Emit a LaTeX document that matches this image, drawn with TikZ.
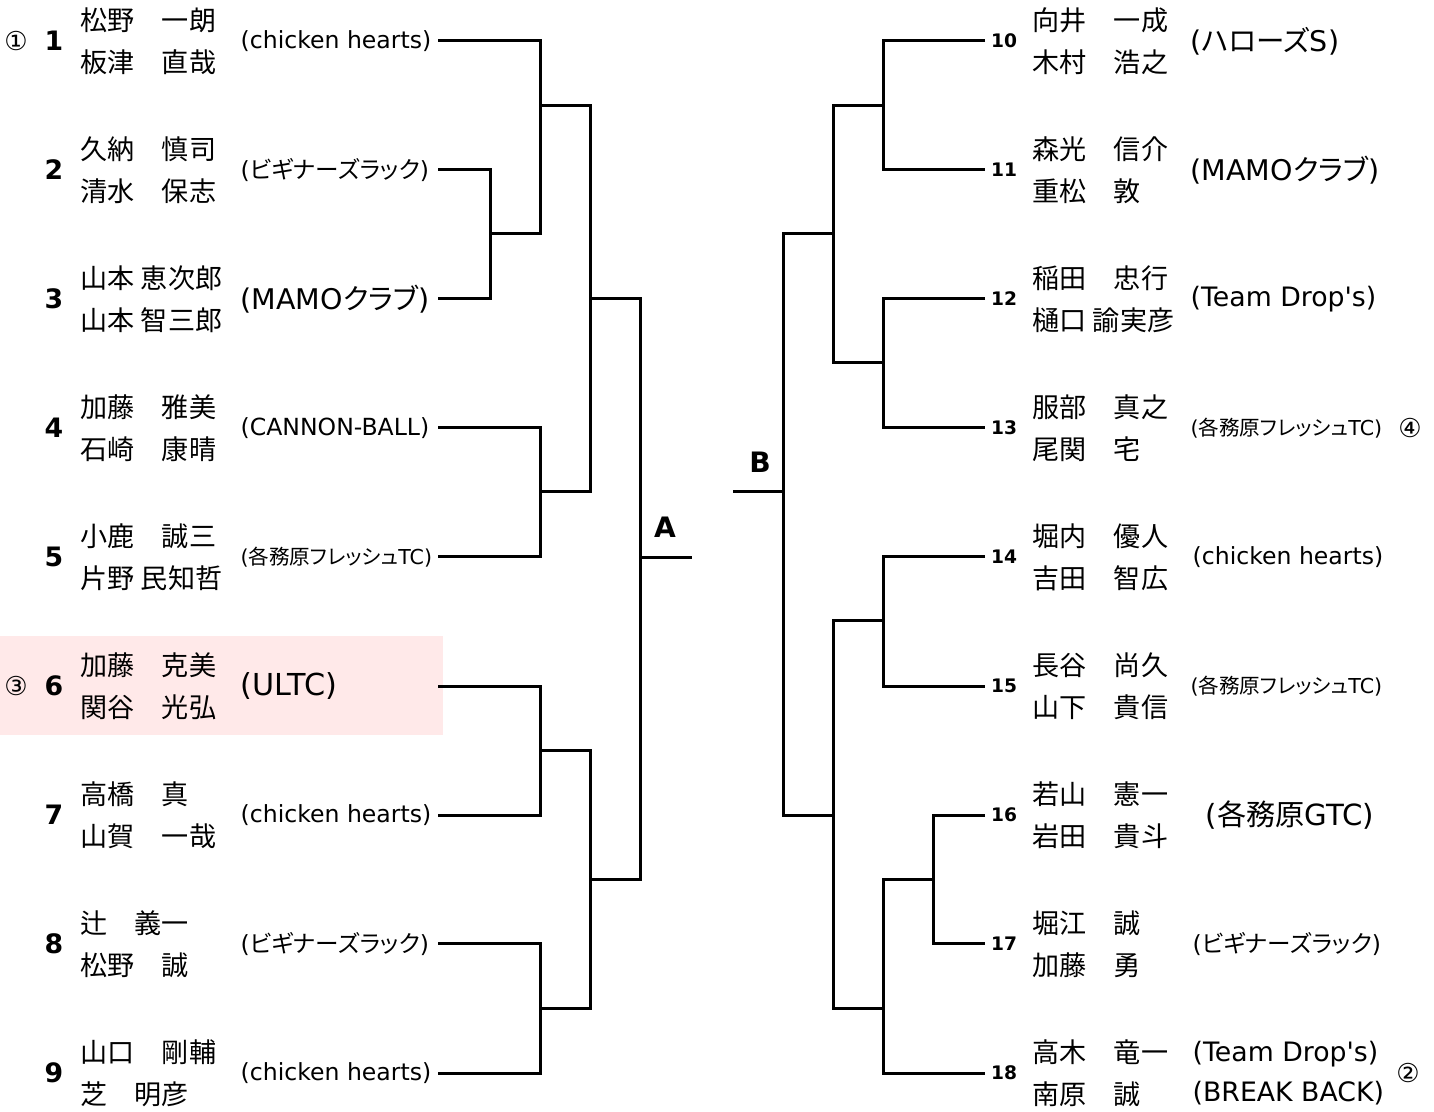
\documentclass[tikz,border=0pt]{standalone}
\usepackage{fontspec}
\setmainfont{DejaVu Sans}[Ligatures=TeXOff]
\newfontfamily\jp{Noto Sans CJK JP}
\newfontfamily\jpp{Noto Sans CJK JP}[RawFeature=+palt]
\usepackage{xcolor}
\usetikzlibrary{calc}

\definecolor{seedpink}{RGB}{255,233,233}
\newcommand{\clubT}{\fontsize{5.85}{7}\selectfont}
\newcommand{\clubS}{\fontsize{6.7}{8}\selectfont}
\newcommand{\clubM}{\fontsize{7.6}{11.4}\selectfont}
\newcommand{\clubL}{\fontsize{8.1}{9}\selectfont}

\tikzset{
    seed/.style={font=\bfseries\fontsize{7.6}{9}\selectfont, inner sep=0},
    seedR/.style={font=\bfseries\fontsize{5.3}{6}\selectfont, inner sep=0},
    circ/.style={font=\fontsize{7.4}{8}\selectfont, inner sep=0},
    pair/.style={anchor=west, inner sep=0, align=left, font=\jp\fontsize{7.7}{11.9}\selectfont},
    club/.style={anchor=west, inner sep=0, align=left},
    wire/.style={line width=0.85pt, black}
}

\begin{document}
\begin{tikzpicture}[x=0.01cm, y=-0.01cm]
        \useasboundingbox (0,0) rectangle (1434,1111);

        % highlighted entry
        \fill[seedpink] (0,636) rectangle (443,735);

        % ============================================================
        % LEFT HALF - entries 1 to 9
        % ============================================================
        \node[circ] (o1) at (16,41) {①};
        \node[seed] (s1) at (54,41) {1};
        \node[pair] (p1) at (80,41) {松野　一朗\\板津　直哉};
        \node[club, font=\clubS] (c1) at (240,41) {(chicken hearts)};
        \coordinate (l1) at (438,40);

        \node[seed] (s2) at (54,170) {2};
        \node[pair] (p2) at (80,170) {久納　慎司\\清水　保志};
        \node[club, font=\clubS] (c2) at (240,170) {({\jpp ビギナーズラック})};
        \coordinate (l2) at (438,169);

        \node[seed] (s3) at (54,299) {3};
        \node[pair] (p3) at (80,299) {山本 恵次郎\\山本 智三郎};
        \node[club, font=\clubL] (c3) at (240,299) {(MAMO{\jpp クラブ})};
        \coordinate (l3) at (438,298);

        \node[seed] (s4) at (54,428) {4};
        \node[pair] (p4) at (80,428) {加藤　雅美\\石崎　康晴};
        \node[club, font=\clubS] (c4) at (240,428) {(CANNON-BALL)};
        \coordinate (l4) at (438,427);

        \node[seed] (s5) at (54,557) {5};
        \node[pair] (p5) at (80,557) {小鹿　誠三\\片野 民知哲};
        \node[club, font=\clubT] (c5) at (240,557) {({\jpp 各務原フレッシュ}TC)};
        \coordinate (l5) at (438,556);

        \node[circ] (o3) at (16,686) {③};
        \node[seed] (s6) at (54,686) {6};
        \node[pair] (p6) at (80,686) {加藤　克美\\関谷　光弘};
        \node[club, font=\fontsize{8.6}{9}\selectfont] (c6) at (240,686) {(ULTC)};
        \coordinate (l6) at (438,686);

        \node[seed] (s7) at (54,815) {7};
        \node[pair] (p7) at (80,815) {高橋　真\\山賀　一哉};
        \node[club, font=\clubS] (c7) at (240,815) {(chicken hearts)};
        \coordinate (l7) at (438,815);

        \node[seed] (s8) at (54,944) {8};
        \node[pair] (p8) at (80,944) {辻　義一\\松野　誠};
        \node[club, font=\clubS] (c8) at (240,944) {({\jpp ビギナーズラック})};
        \coordinate (l8) at (438,943);

        \node[seed] (s9) at (54,1073) {9};
        \node[pair] (p9) at (80,1073) {山口　剛輔\\芝　明彦};
        \node[club, font=\clubS] (c9) at (240,1073) {(chicken hearts)};
        \coordinate (l9) at (438,1073);

        % left bracket
        \coordinate (m1) at (540,105);
        \coordinate (m23) at (490,233);
        \coordinate (m45) at (540,491);
        \coordinate (m67) at (540,750);
        \coordinate (m89) at (540,1008);
        \coordinate (q1) at (590,298);
        \coordinate (q2) at (590,879);
        \coordinate (fA) at (640,557);
        \coordinate (endA) at (692,557);

        \draw[wire] (l2) -| (m23) |- (l3);
        \draw[wire] (l1) -| (m1) |- (m23);
        \draw[wire] (l4) -| (m45) |- (l5);
        \draw[wire] (m1) -| (q1) |- (m45);
        \draw[wire] (l6) -| (m67) |- (l7);
        \draw[wire] (l8) -| (m89) |- (l9);
        \draw[wire] (m67) -| (q2) |- (m89);
        \draw[wire] (q1) -| (fA) |- (q2);
        \draw[wire] (fA) -- (endA);
        \node[font=\bfseries\fontsize{8}{9}\selectfont, inner sep=0] (labA) at (665,527) {A};

        % ============================================================
        % RIGHT HALF - entries 10 to 18
        % ============================================================
        \node[seedR] (s10) at (1004,41) {10};
        \node[pair] (p10) at (1032,41) {向井　一成\\木村　浩之};
        \node[club, font=\clubL] (c10) at (1190,41) {({\jpp ハローズ}S)};
        \coordinate (r10) at (985,40);

        \node[seedR] (s11) at (1004,170) {11};
        \node[pair] (p11) at (1032,170) {森光　信介\\重松　敦};
        \node[club, font=\clubL] (c11) at (1190,170) {(MAMO{\jpp クラブ})};
        \coordinate (r11) at (985,169);

        \node[seedR] (s12) at (1004,299) {12};
        \node[pair] (p12) at (1032,299) {稲田　忠行\\樋口 諭実彦};
        \node[club, font=\clubM] (c12) at (1190,299) {(Team Drop's)};
        \coordinate (r12) at (985,298);

        \node[seedR] (s13) at (1004,428) {13};
        \node[pair] (p13) at (1032,428) {服部　真之\\尾関　宅};
        \node[club, font=\clubT] (c13) at (1190,428) {({\jpp 各務原フレッシュ}TC)};
        \node[circ] (o4) at (1410,428) {④};
        \coordinate (r13) at (985,427);

        \node[seedR] (s14) at (1004,557) {14};
        \node[pair] (p14) at (1032,557) {堀内　優人\\吉田　智広};
        \node[club, font=\clubS] (c14) at (1192,557) {(chicken hearts)};
        \coordinate (r14) at (985,556);

        \node[seedR] (s15) at (1004,686) {15};
        \node[pair] (p15) at (1032,686) {長谷　尚久\\山下　貴信};
        \node[club, font=\clubT] (c15) at (1190,686) {({\jpp 各務原フレッシュ}TC)};
        \coordinate (r15) at (985,686);

        \node[seedR] (s16) at (1004,815) {16};
        \node[pair] (p16) at (1032,815) {若山　憲一\\岩田　貴斗};
        \node[club, font=\fontsize{8.3}{9}\selectfont] (c16) at (1205,815) {({\jpp 各務原}GTC)};
        \coordinate (r16) at (985,815);

        \node[seedR] (s17) at (1004,944) {17};
        \node[pair] (p17) at (1032,944) {堀江　誠\\加藤　勇};
        \node[club, font=\clubS] (c17) at (1192,944) {({\jpp ビギナーズラック})};
        \coordinate (r17) at (985,943);

        \node[seedR] (s18) at (1004,1073) {18};
        \node[pair] (p18) at (1032,1073) {高木　竜一\\南原　誠};
        \node[club, font=\clubM] (c18) at (1192,1073) {(Team Drop's)\\(BREAK BACK)};
        \node[circ] (o2) at (1408,1073) {②};
        \coordinate (r18) at (985,1073);

        % right bracket
        \coordinate (n1011) at (883,105);
        \coordinate (n1213) at (883,362);
        \coordinate (n1415) at (883,620);
        \coordinate (n1617) at (933,879);
        \coordinate (n18) at (883,1008);
        \coordinate (u1) at (833,233);
        \coordinate (u2) at (833,815);
        \coordinate (fB) at (783,491);
        \coordinate (endB) at (733,491);

        \draw[wire] (r10) -| (n1011) |- (r11);
        \draw[wire] (r12) -| (n1213) |- (r13);
        \draw[wire] (n1011) -| (u1) |- (n1213);
        \draw[wire] (r14) -| (n1415) |- (r15);
        \draw[wire] (r16) -| (n1617) |- (r17);
        \draw[wire] (n1617) -| (n18) |- (r18);
        \draw[wire] (n1415) -| (u2) |- (n18);
        \draw[wire] (u1) -| (fB) |- (u2);
        \draw[wire] (fB) -- (endB);
        \node[font=\bfseries\fontsize{8}{9}\selectfont, inner sep=0] (labB) at (760,462) {B};

    \end{tikzpicture}
\end{document}
